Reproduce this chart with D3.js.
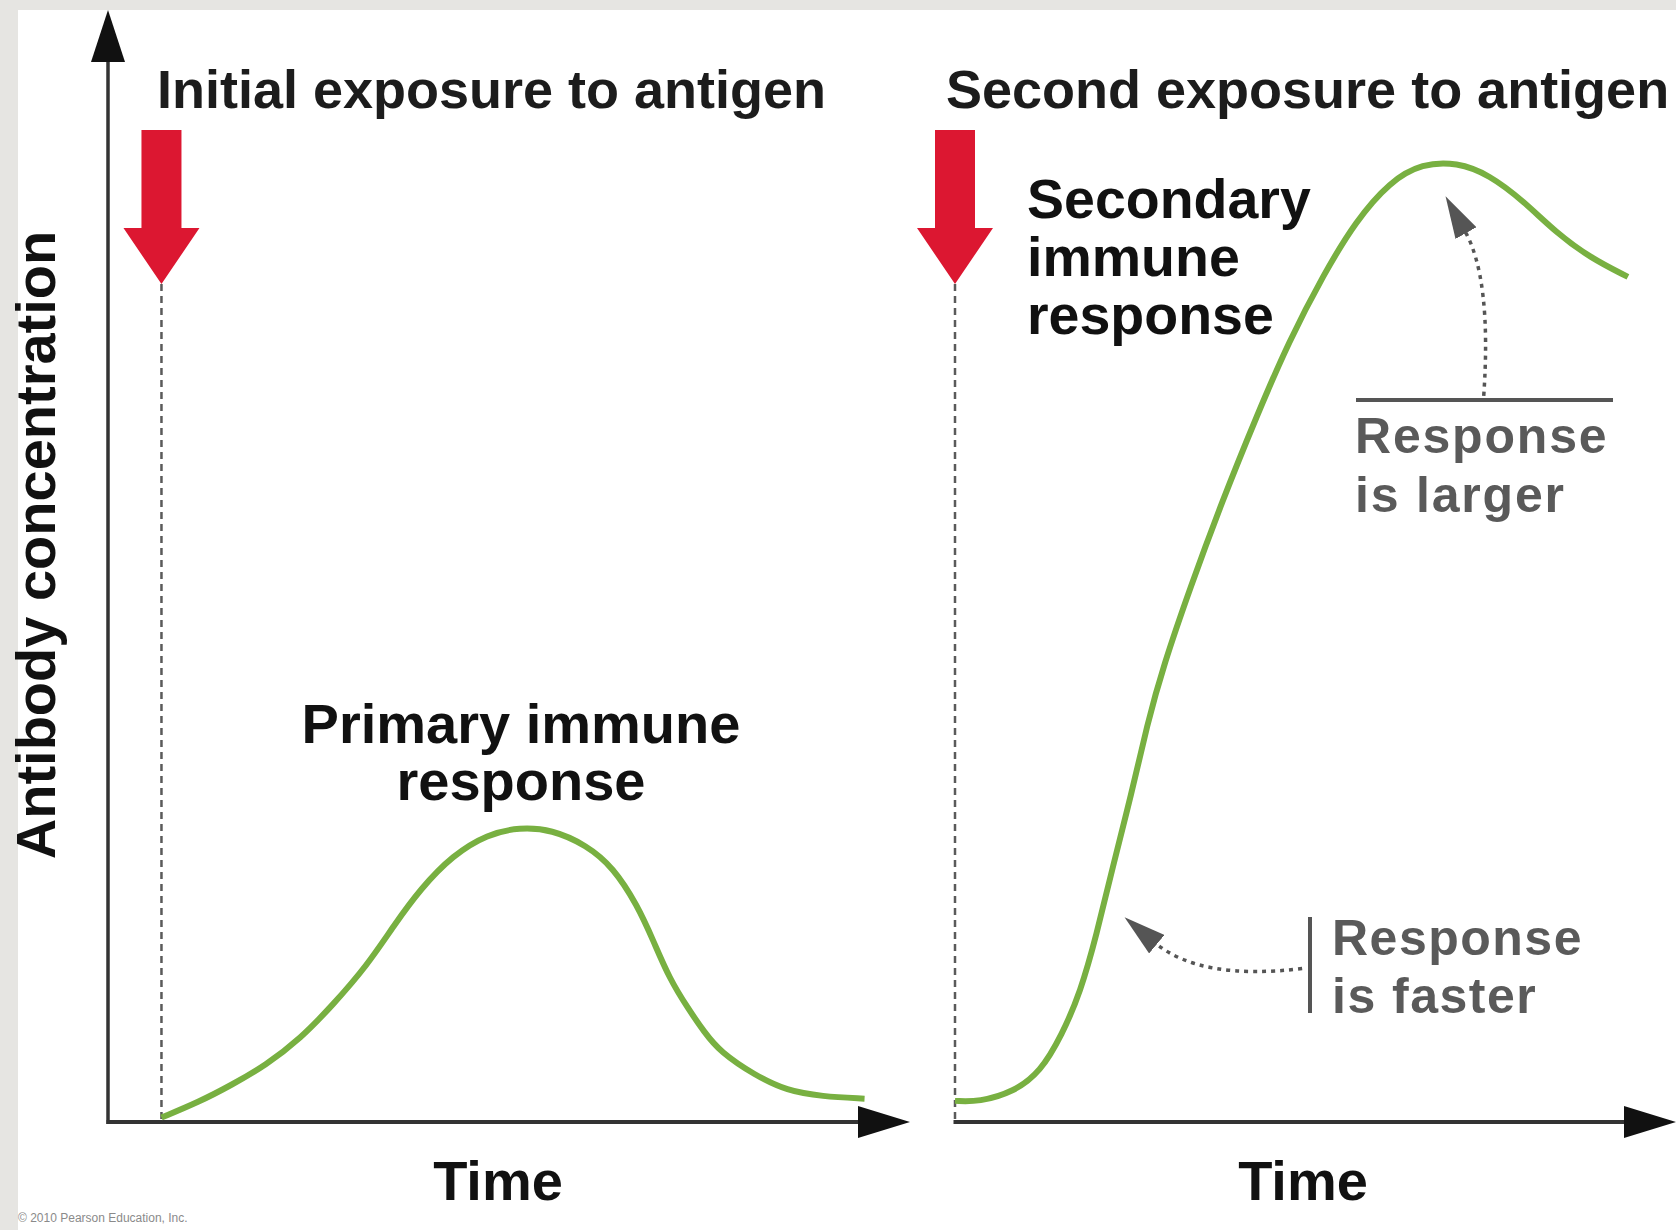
<!DOCTYPE html>
<html>
<head>
<meta charset="utf-8">
<script src="https://cdn.jsdelivr.net/npm/d3@7"></script>
<style>
  body { margin: 0; background: #e6e5e2; }
  svg { display: block; }
  text { font-family: "Liberation Sans", Arial, sans-serif; }
</style>
</head>
<body>
<svg id="chart"></svg>
<script>
// primary response (after first exposure), time in days, level in % of axis
const primaryTime  = [2, 3.4, 4.6, 5.9, 7.2, 8.4, 9.7, 10.7, 11.7, 12.9, 14.2, 15.4, 16.6, 17.9, 18.9, 19.8, 20.4, 21.0, 21.7, 22.3, 22.9, 24.2, 25.4, 26.7, 28.3];
const primaryLevel = [0.4, 1.8, 3.3, 5.1, 7.5, 10.5, 14.1, 17.7, 21.0, 24.0, 25.9, 26.5, 26.3, 24.9, 22.9, 19.5, 16.3, 12.9, 10.2, 8.1, 6.3, 4.2, 2.8, 2.3, 2.1];

// secondary response (after second exposure)
const secondaryTime  = [0, 0.9, 2.2, 3.2, 4.0, 4.7, 5.3, 5.9, 6.6, 7.2, 7.8, 8.8, 10.0, 11.3, 12.5, 13.8, 15.0, 16.3, 17.5, 18.8, 20.0, 21.3, 22.5, 23.8, 25.2];
const secondaryLevel = [1.9, 1.8, 2.7, 4.5, 7.8, 11.7, 16.8, 22.9, 29.4, 35.8, 41.0, 48.0, 55.8, 63.5, 70.2, 76.2, 81.0, 84.6, 86.2, 86.3, 85.2, 82.8, 80.0, 77.7, 76.0];

const exposureTimes = [2, 0];
const panelTitles = ['Initial exposure to antigen', 'Second exposure to antigen'];
const xLabel = 'Time';
const yLabel = 'Antibody concentration';
const primaryLabel = ['Primary immune', 'response'];
const secondaryLabel = ['Secondary', 'immune', 'response'];
const largerLabel = ['Response', 'is larger'];
const fasterLabel = ['Response', 'is faster'];
const credit = '\u00a9 2010 Pearson Education, Inc.';

// annotation anchors in data units of the second panel: [time, level]
const largerFrom = [19.8, 65.3], largerCtrl = [20.1, 75.8], largerTo = [19.1, 80.1];
const fasterFrom = [13.0, 13.8], fasterCtrl = [9.2, 12.7], fasterTo = [7.5, 16.1];

const width = 1676;
const height = 1230;

const y = d3.scaleLinear().domain([0, 100]).range([1122, 10]);
const xLeft = d3.scaleLinear().domain([0, 30]).range([108, 910]);
const xRight = d3.scaleLinear().domain([0, 27]).range([955, 1676]);

const svg = d3.select('#chart')
    .attr('width', width)
    .attr('height', height);

svg.append('rect')
    .attr('width', width).attr('height', height)
    .attr('fill', '#e6e5e2');
svg.append('rect')
    .attr('x', 18).attr('y', 10)
    .attr('width', width - 18).attr('height', height - 10)
    .attr('fill', '#ffffff');

const defs = svg.append('defs');
defs.append('marker')
    .attr('id', 'dothead')
    .attr('markerUnits', 'userSpaceOnUse')
    .attr('viewBox', '0 0 42 24')
    .attr('markerWidth', 42).attr('markerHeight', 24)
    .attr('refX', 2).attr('refY', 12)
    .attr('orient', 'auto')
  .append('path')
    .attr('d', 'M0,0L42,12L0,24Z')
    .attr('fill', '#555');

const axisColor = '#333';

// axes with arrow heads
function arrowHead(x0, y0, dir, len, half) {
  // dir: 'up' or 'right', (x0, y0) is the tip
  if (dir === 'up') return `M${x0},${y0}L${x0 + half},${y0 + len}L${x0 - half},${y0 + len}Z`;
  return `M${x0},${y0}L${x0 - len},${y0 - half}L${x0 - len},${y0 + half}Z`;
}

svg.append('line')
    .attr('x1', xLeft.range()[0]).attr('x2', xLeft.range()[0])
    .attr('y1', y(0) + 2).attr('y2', y.range()[1] + 30)
    .attr('stroke', axisColor).attr('stroke-width', 3.5);
svg.append('path')
    .attr('d', arrowHead(xLeft.range()[0], y.range()[1], 'up', 52, 17))
    .attr('fill', '#111');

[xLeft, xRight].forEach(x => {
  svg.append('line')
      .attr('x1', x.range()[0] - 1.5).attr('x2', x.range()[1] - 30)
      .attr('y1', y(0)).attr('y2', y(0))
      .attr('stroke', axisColor).attr('stroke-width', 4);
  svg.append('path')
      .attr('d', arrowHead(x.range()[1], y(0), 'right', 52, 16))
      .attr('fill', '#111');
});

// exposure markers: dashed line + red arrow, titles, x labels
const panels = [xLeft, xRight];
panels.forEach((x, i) => {
  const cx = x(exposureTimes[i]);
  svg.append('line')
      .attr('x1', cx).attr('x2', cx)
      .attr('y1', 284).attr('y2', y(0))
      .attr('stroke', '#5a5a5a')
      .attr('stroke-width', 2.5)
      .attr('stroke-dasharray', '7,5');
  svg.append('path')
      .attr('d', `M${cx - 20},130H${cx + 20}V228H${cx + 38}L${cx},284L${cx - 38},228H${cx - 20}Z`)
      .attr('fill', '#dc1731');
  svg.append('text')
      .attr('x', i === 0 ? 157 : 946)
      .attr('y', 108)
      .attr('font-size', 54)
      .attr('font-weight', 'bold')
      .attr('fill', '#1c1c1c')
      .text(panelTitles[i]);
  svg.append('text')
      .attr('x', i === 0 ? 498 : 1303)
      .attr('y', 1200)
      .attr('text-anchor', 'middle')
      .attr('font-size', 56)
      .attr('font-weight', 'bold')
      .attr('fill', '#111')
      .text(xLabel);
});

// response curves
const line = d3.line().curve(d3.curveBasis);

svg.append('path')
    .datum(primaryTime.map((t, i) => [xLeft(t), y(primaryLevel[i])]))
    .attr('d', line)
    .attr('fill', 'none')
    .attr('stroke', '#78b041')
    .attr('stroke-width', 6);

svg.append('path')
    .datum(secondaryTime.map((t, i) => [xRight(t), y(secondaryLevel[i])]))
    .attr('d', line)
    .attr('fill', 'none')
    .attr('stroke', '#78b041')
    .attr('stroke-width', 6);

// y label
svg.append('text')
    .attr('transform', 'translate(55,545) rotate(-90)')
    .attr('text-anchor', 'middle')
    .attr('font-size', 56)
    .attr('font-weight', 'bold')
    .attr('fill', '#111')
    .text(yLabel);

// curve labels
svg.append('text')
    .attr('x', 521).attr('y', 743)
    .attr('text-anchor', 'middle')
    .attr('font-size', 56)
    .attr('font-weight', 'bold')
    .attr('fill', '#111')
  .selectAll('tspan')
    .data(primaryLabel)
  .enter().append('tspan')
    .attr('x', 521)
    .attr('dy', (d, i) => i ? 57 : 0)
    .text(d => d);

svg.append('text')
    .attr('x', 1027).attr('y', 218)
    .attr('font-size', 55.5)
    .attr('font-weight', 'bold')
    .attr('fill', '#111')
  .selectAll('tspan')
    .data(secondaryLabel)
  .enter().append('tspan')
    .attr('x', 1027)
    .attr('dy', (d, i) => i ? 58 : 0)
    .text(d => d);

// "Response is larger"
svg.append('line')
    .attr('x1', 1356).attr('x2', 1613)
    .attr('y1', 400).attr('y2', 400)
    .attr('stroke', '#555').attr('stroke-width', 4);

svg.append('text')
    .attr('x', 1355).attr('y', 453)
    .attr('font-size', 50)
    .attr('font-weight', 'bold')
    .attr('letter-spacing', 1.8)
    .attr('fill', '#5a5a5a')
  .selectAll('tspan')
    .data(largerLabel)
  .enter().append('tspan')
    .attr('x', 1355)
    .attr('dy', (d, i) => i ? 59 : 0)
    .text(d => d);

function qpath(from, ctrl, to) {
  const p = d3.path();
  p.moveTo(xRight(from[0]), y(from[1]));
  p.quadraticCurveTo(xRight(ctrl[0]), y(ctrl[1]), xRight(to[0]), y(to[1]));
  return p.toString();
}

svg.append('path')
    .attr('d', qpath(largerFrom, largerCtrl, largerTo))
    .attr('fill', 'none')
    .attr('stroke', '#555')
    .attr('stroke-width', 3.5)
    .attr('stroke-dasharray', '4,5')
    .attr('marker-end', 'url(#dothead)');

// "Response is faster"
svg.append('line')
    .attr('x1', 1310).attr('x2', 1310)
    .attr('y1', 917).attr('y2', 1013)
    .attr('stroke', '#555').attr('stroke-width', 4);

svg.append('text')
    .attr('x', 1332).attr('y', 955)
    .attr('font-size', 50)
    .attr('font-weight', 'bold')
    .attr('letter-spacing', 1.5)
    .attr('fill', '#5a5a5a')
  .selectAll('tspan')
    .data(fasterLabel)
  .enter().append('tspan')
    .attr('x', 1332)
    .attr('dy', (d, i) => i ? 58 : 0)
    .text(d => d);

svg.append('path')
    .attr('d', qpath(fasterFrom, fasterCtrl, fasterTo))
    .attr('fill', 'none')
    .attr('stroke', '#555')
    .attr('stroke-width', 3.5)
    .attr('stroke-dasharray', '4,5')
    .attr('marker-end', 'url(#dothead)');

svg.append('text')
    .attr('x', 18).attr('y', 1222)
    .attr('font-size', 12)
    .attr('fill', '#8a8a8a')
    .text(credit);
</script>
</body>
</html>
